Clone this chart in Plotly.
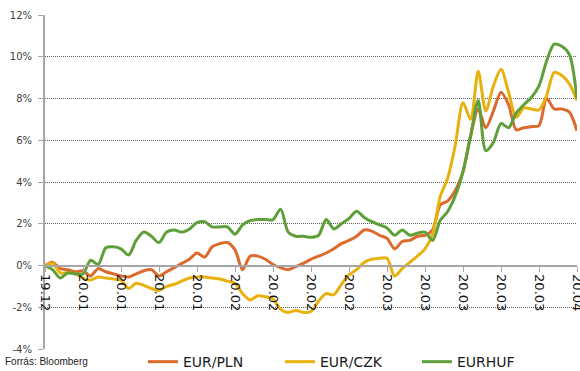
import plotly.graph_objects as go

# Business-day index from 2019-12-30 to 2020-04-06 (71 trading days)
day_index = list(range(71))

# Cumulative change against the start of the period, %
eur_pln = [0.0, 0.15, -0.15, -0.2, -0.3, -0.25, -0.5, -0.15, -0.3, -0.4,
           -0.5, -0.55, -0.4, -0.25, -0.2, -0.5, -0.3, -0.1, 0.1, 0.3,
           0.6, 0.4, 0.9, 1.05, 1.1, 0.75, -0.2, 0.45, 0.45, 0.3,
           0.05, -0.1, -0.2, -0.05, 0.1, 0.3, 0.45, 0.6, 0.8, 1.05,
           1.2, 1.4, 1.7, 1.65, 1.45, 1.3, 0.8, 1.15, 1.2, 1.4,
           1.45, 1.7, 2.9, 3.1, 3.6, 4.5, 6.2, 7.5, 6.6, 7.4,
           8.3, 7.7, 6.5, 6.6, 6.65, 6.7, 8.0, 7.5, 7.5, 7.35,
           6.45]

eur_czk = [0.0, 0.1, -0.35, -0.35, -0.4, -0.6, -0.7, -0.55, -0.6, -0.65,
           -0.7, -1.1, -0.85, -0.95, -1.1, -1.2, -1.0, -0.9, -0.75, -0.6,
           -0.55, -0.55, -0.6, -0.65, -0.75, -0.85, -1.35, -1.65, -1.45, -1.5,
           -1.6, -2.1, -2.25, -2.15, -2.25, -2.2, -1.7, -1.35, -1.4, -0.9,
           -0.45, -0.2, 0.15, 0.3, 0.35, 0.35, -0.5, -0.15, 0.15, 0.45,
           0.8, 1.5, 3.3, 4.2, 5.8, 7.8, 7.0, 9.3, 7.4, 8.6,
           9.4, 8.3, 7.1, 7.55, 7.5, 7.45, 8.15, 9.25, 9.1, 8.7,
           7.9]

eur_huf = [0.0, -0.2, -0.6, -0.35, -0.4, -0.4, 0.25, 0.05, 0.85, 0.9,
           0.8, 0.5, 1.2, 1.6, 1.4, 1.1, 1.6, 1.7, 1.6, 1.75,
           2.05, 2.1, 1.85, 1.85, 1.85, 1.5, 1.95, 2.15, 2.2, 2.2,
           2.2, 2.7, 1.6, 1.4, 1.4, 1.35, 1.45, 2.2, 1.75, 2.0,
           2.25, 2.6, 2.3, 2.1, 1.95, 1.8, 1.45, 1.7, 1.45, 1.55,
           1.6, 1.2, 2.15, 2.6, 3.35, 4.5, 6.2, 7.9, 5.5, 5.9,
           6.8, 6.6, 7.3, 7.7, 8.05, 8.6, 9.8, 10.6, 10.5, 10.1,
           8.0]

# Weekly (every 5th trading day) category labels, yy.mm
tick_positions = list(range(0, 71, 5))
tick_labels = ["19.12", "20.01", "20.01", "20.01", "20.01",
               "20.02", "20.02", "20.02", "20.02",
               "20.03", "20.03", "20.03", "20.03", "20.03", "20.04"]

y_ticks = [-4, -2, 0, 2, 4, 6, 8, 10, 12]
y_tick_labels = [f"{v}%" for v in y_ticks]

series = [
    ("EUR/PLN", eur_pln, "#DC6A2C"),
    ("EUR/CZK", eur_czk, "#E8B10E"),
    ("EURHUF", eur_huf, "#5E9F3A"),
]

fig = go.Figure()
for name, values, color in series:
    fig.add_trace(go.Scatter(
        x=day_index, y=values, name=name, mode="lines",
        line=dict(color=color, width=3, shape="spline", smoothing=0.8),
    ))

axis_grey = "#A6A6A6"

fig.update_layout(
    width=580, height=371,
    margin=dict(l=45, r=3, t=15, b=22, autoexpand=False),
    paper_bgcolor="white", plot_bgcolor="white",
    showlegend=True,
    legend=dict(
        orientation="h", x=0.184, xanchor="left", y=-0.087, yanchor="bottom",
        font=dict(family="DejaVu Sans", size=14, color="#1A1A1A"),
        entrywidth=92, entrywidthmode="pixels",
        bgcolor="rgba(0,0,0,0)", itemwidth=30,
    ),
    xaxis=dict(
        range=[0, 70], anchor="free", position=0.25,
        tickmode="array", tickvals=tick_positions, ticktext=tick_labels,
        tickangle=90, ticks="outside", ticklen=5, tickcolor=axis_grey,
        tickwidth=1, ticklabeloverflow="allow",
        showline=True, linecolor=axis_grey, linewidth=2,
        showgrid=False, zeroline=False,
        tickfont=dict(family="DejaVu Sans", size=13, color="#111111"),
    ),
    yaxis=dict(
        range=[-4, 12], tickmode="array", tickvals=y_ticks,
        ticktext=y_tick_labels,
        ticks="outside", ticklen=5, tickcolor=axis_grey, tickwidth=1,
        showline=True, linecolor=axis_grey, linewidth=2,
        showgrid=True, gridcolor="#606060", gridwidth=1, griddash="1px,1px",
        zeroline=False, ticklabelstandoff=4,
        tickfont=dict(family="DejaVu Sans", size=10, color="#404040"),
    ),
    annotations=[dict(
        text="Forrás: Bloomberg", xref="paper", yref="paper",
        x=-0.079, y=-0.036, xanchor="left", yanchor="middle",
        showarrow=False,
        font=dict(family="Liberation Sans", size=10, color="#222222"),
    )],
)

fig.write_html("out.html")
